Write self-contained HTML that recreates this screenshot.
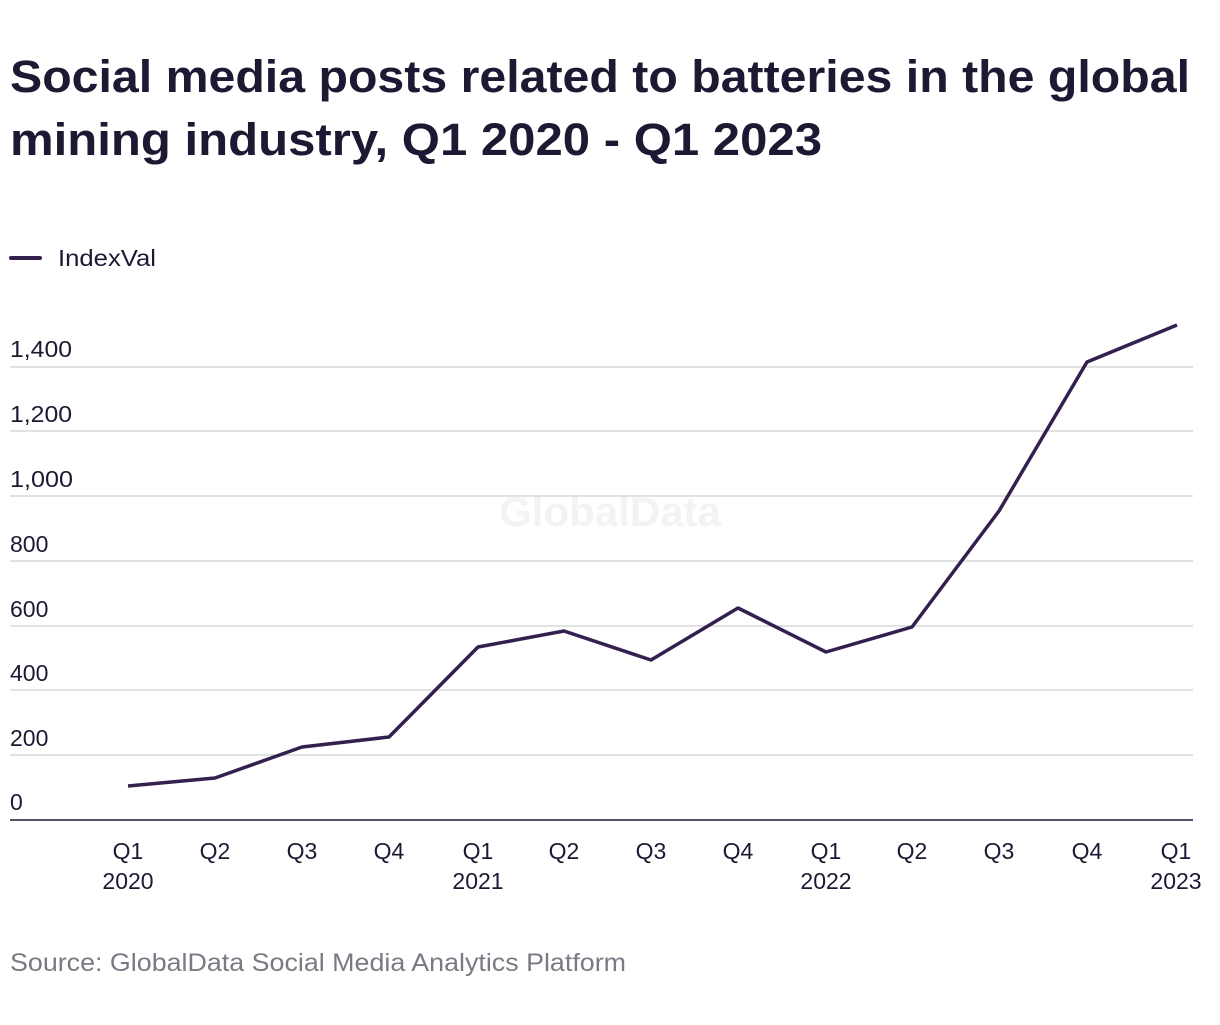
<!DOCTYPE html>
<html><head><meta charset="utf-8"><style>
body{margin:0;background:#fff;width:1220px;height:1020px;overflow:hidden;font-family:"Liberation Sans",sans-serif}
</style></head><body>
<svg width="1220" height="1020" xmlns="http://www.w3.org/2000/svg" font-family="Liberation Sans, sans-serif">
<text x="10" y="92" font-size="45" font-weight="bold" fill="#1c1a33" textLength="1180" lengthAdjust="spacingAndGlyphs">Social media posts related to batteries in the global</text>
<text x="10" y="155" font-size="45" font-weight="bold" fill="#1c1a33" textLength="812" lengthAdjust="spacingAndGlyphs">mining industry, Q1 2020 - Q1 2023</text>
<line x1="11" y1="258" x2="40" y2="258" stroke="#33204f" stroke-width="4" stroke-linecap="round"/>
<text x="58" y="266" font-size="23" fill="#1c1a33" textLength="98" lengthAdjust="spacingAndGlyphs">IndexVal</text>
<text x="610" y="526" font-size="42" font-weight="bold" fill="#f3f3f3" text-anchor="middle">GlobalData</text>
<g stroke="#d8d8d8" stroke-width="1.5">
<line x1="10" y1="367" x2="1193" y2="367"/>
<line x1="10" y1="431" x2="1193" y2="431"/>
<line x1="10" y1="496" x2="1193" y2="496"/>
<line x1="10" y1="561" x2="1193" y2="561"/>
<line x1="10" y1="626" x2="1193" y2="626"/>
<line x1="10" y1="690" x2="1193" y2="690"/>
<line x1="10" y1="755" x2="1193" y2="755"/>
</g>
<line x1="10" y1="820" x2="1193" y2="820" stroke="#1c1a33" stroke-width="1.5"/>
<g font-size="23" fill="#1c1a33">
<text x="10" y="357" textLength="62" lengthAdjust="spacingAndGlyphs">1,400</text>
<text x="10" y="422" textLength="62" lengthAdjust="spacingAndGlyphs">1,200</text>
<text x="10" y="487" textLength="63" lengthAdjust="spacingAndGlyphs">1,000</text>
<text x="10" y="552">800</text>
<text x="10" y="617">600</text>
<text x="10" y="681">400</text>
<text x="10" y="746">200</text>
<text x="10" y="810">0</text>
</g>
<polyline fill="none" stroke="#33204f" stroke-width="3.5" stroke-linejoin="round" points="128,786 215,778 302,747 389,737 478,647 564,631 651,660 738,608 826,652 912,627 999,511 1087,362 1177,325"/>
<g font-size="23" fill="#1c1a33" text-anchor="middle">
<text x="128" y="859">Q1</text><text x="128" y="889">2020</text>
<text x="215" y="859">Q2</text>
<text x="302" y="859">Q3</text>
<text x="389" y="859">Q4</text>
<text x="478" y="859">Q1</text><text x="478" y="889">2021</text>
<text x="564" y="859">Q2</text>
<text x="651" y="859">Q3</text>
<text x="738" y="859">Q4</text>
<text x="826" y="859">Q1</text><text x="826" y="889">2022</text>
<text x="912" y="859">Q2</text>
<text x="999" y="859">Q3</text>
<text x="1087" y="859">Q4</text>
<text x="1176" y="859">Q1</text><text x="1176" y="889">2023</text>
</g>
<text x="10" y="971" font-size="25" fill="#7a7a85" textLength="616" lengthAdjust="spacingAndGlyphs">Source: GlobalData Social Media Analytics Platform</text>
</svg>
</body></html>
